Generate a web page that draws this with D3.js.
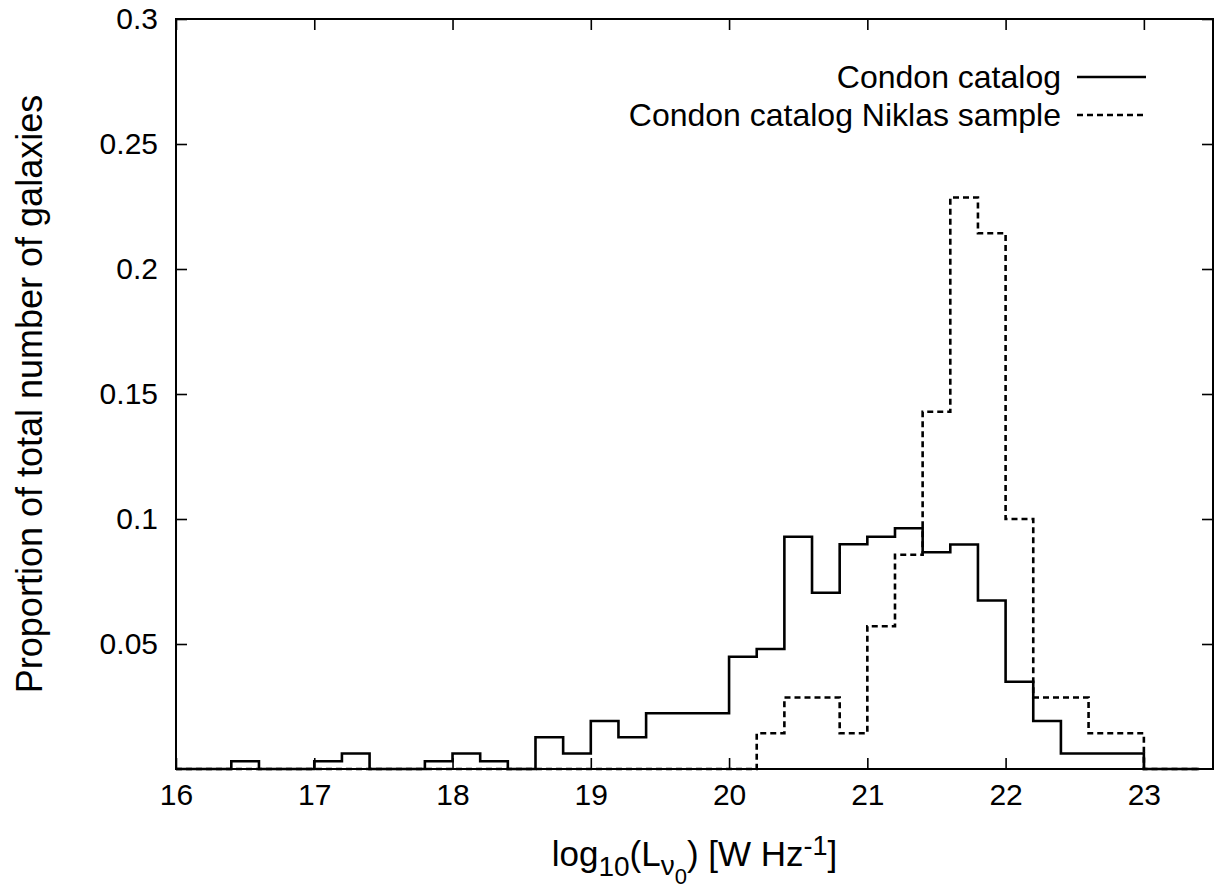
<!DOCTYPE html>
<html lang="en">
<head>
<meta charset="UTF-8">
<title>Condon catalog luminosity histogram</title>
<style>
    body { margin: 0; background: #fff; }
    svg { display: block; }
    text { font-family: "Liberation Sans", Arial, Helvetica, sans-serif; fill: #000; }
    .axis path { display: none; }
    .axis line { stroke: #000; stroke-width: 1.6px; }
</style>
</head>
<body>
<div id="chart"></div>
<script src="https://d3js.org/d3.v7.min.js"></script>
<script>

    // bin edges, log10 luminosity
    var binEdges = [16.0, 16.2, 16.4, 16.6, 16.8, 17.0, 17.2, 17.4, 17.6, 17.8,
                    18.0, 18.2, 18.4, 18.6, 18.8, 19.0, 19.2, 19.4, 19.6, 19.8,
                    20.0, 20.2, 20.4, 20.6, 20.8, 21.0, 21.2, 21.4, 21.6, 21.8,
                    22.0, 22.2, 22.4, 22.6, 22.8, 23.0, 23.2, 23.4];

    // Condon catalog (solid)
    var condon = [0, 0, 0.0031, 0, 0, 0.0031, 0.0062, 0, 0, 0.0031,
                  0.0062, 0.0031, 0, 0.0127, 0.0062, 0.0192, 0.0127, 0.0223, 0.0223, 0.0223,
                  0.0449, 0.048, 0.0929, 0.0705, 0.0899, 0.0929, 0.0963, 0.0867, 0.0898, 0.0674,
                  0.0349, 0.0192, 0.0062, 0.0062, 0.0062, 0, 0];

    // Condon catalog Niklas sample (dashed)
    var niklas = [0, 0, 0, 0, 0, 0, 0, 0, 0, 0,
                  0, 0, 0, 0, 0, 0, 0, 0, 0, 0,
                  0, 0.0143, 0.0286, 0.0286, 0.0143, 0.0571, 0.0857, 0.1429, 0.2286, 0.2143,
                  0.1, 0.0286, 0.0286, 0.0143, 0.0143, 0, 0];

    var xTicks = [16, 17, 18, 19, 20, 21, 22, 23];
    var yTicks = [0.05, 0.1, 0.15, 0.2, 0.25, 0.3];
    var yTickLabels = ["0.05", "0.1", "0.15", "0.2", "0.25", "0.3"];

    var seriesNames = ["Condon catalog", "Condon catalog Niklas sample"];


    var width = 1215,
        height = 888;

    var margin = {left: 176, right: 2, top: 19, bottom: 119};

    var svg = d3.select("#chart").append("svg")
        .attr("width", width)
        .attr("height", height);

    svg.append("rect")
        .attr("width", width)
        .attr("height", height)
        .attr("fill", "#fff");

    var x = d3.scaleLinear()
        .domain([16, 23.5])
        .range([margin.left, width - margin.right]);

    var y = d3.scaleLinear()
        .domain([0, 0.3])
        .range([height - margin.bottom, margin.top]);

    var tick = 11;

    // bottom axis with labels, ticks pointing inward
    var gx = svg.append("g")
        .attr("class", "axis")
        .attr("transform", "translate(0," + y(0) + ")")
        .call(d3.axisBottom(x).tickValues(xTicks).tickSize(-tick).tickPadding(0).tickFormat(d3.format("d")));
    gx.selectAll("text")
        .attr("font-size", "30px")
        .attr("dy", null)
        .attr("y", 36);

    // top mirror ticks
    svg.append("g")
        .attr("class", "axis")
        .attr("transform", "translate(0," + y(0.3) + ")")
        .call(d3.axisTop(x).tickValues(xTicks).tickSize(-tick).tickFormat(""));

    // left axis
    var gy = svg.append("g")
        .attr("class", "axis")
        .attr("transform", "translate(" + x(16) + ",0)")
        .call(d3.axisLeft(y).tickValues(yTicks).tickSize(-tick).tickPadding(18)
            .tickFormat(function (d, i) { return yTickLabels[i]; }));
    gy.selectAll("text")
        .attr("font-size", "30px");

    // right mirror ticks
    svg.append("g")
        .attr("class", "axis")
        .attr("transform", "translate(" + x(23.5) + ",0)")
        .call(d3.axisRight(y).tickValues(yTicks).tickSize(-tick).tickFormat(""));


    // histogram steps
    function stepPoints(vals) {
        return binEdges.map(function (e, i) {
            return [e, vals[Math.min(i, vals.length - 1)]];
        });
    }

    var line = d3.line()
        .x(function (d) { return x(d[0]); })
        .y(function (d) { return y(d[1]); })
        .curve(d3.curveStepAfter);

    svg.append("path")
        .attr("d", line(stepPoints(niklas)))
        .attr("fill", "none")
        .attr("stroke", "#000")
        .attr("stroke-width", 2.6)
        .attr("stroke-dasharray", "6,4");

    svg.append("path")
        .attr("d", line(stepPoints(condon)))
        .attr("fill", "none")
        .attr("stroke", "#000")
        .attr("stroke-width", 2.6);

    // border
    svg.append("rect")
        .attr("x", x(16))
        .attr("y", y(0.3))
        .attr("width", x(23.5) - x(16))
        .attr("height", y(0) - y(0.3))
        .attr("fill", "none")
        .attr("stroke", "#000")
        .attr("stroke-width", 2);


    // legend
    var legend = svg.append("g");
    seriesNames.forEach(function (name, i) {
        var ly = 77 + i * 38;
        legend.append("text")
            .attr("x", 1061)
            .attr("y", ly)
            .attr("dy", "0.35em")
            .attr("text-anchor", "end")
            .attr("font-size", "32px")
            .text(name);
        legend.append("line")
            .attr("x1", 1077)
            .attr("x2", 1146)
            .attr("y1", ly)
            .attr("y2", ly)
            .attr("stroke", "#000")
            .attr("stroke-width", 2.6)
            .attr("stroke-dasharray", i ? "6,4" : null);
    });


    // axis titles
    svg.append("text")
        .attr("transform", "translate(42," + ((y(0) + y(0.3)) / 2) + ") rotate(-90)")
        .attr("text-anchor", "middle")
        .attr("font-size", "36px")
        .text("Proportion of total number of galaxies");

    var xl = svg.append("text")
        .attr("x", (x(16) + x(23.5)) / 2)
        .attr("y", 866)
        .attr("text-anchor", "middle")
        .attr("font-size", "35px");
    xl.append("tspan").text("log");
    xl.append("tspan").attr("font-size", "28px").attr("dy", 10).text("10");
    xl.append("tspan").attr("dy", -10).text("(L");
    xl.append("tspan").attr("font-size", "28px").attr("dy", 9).text("ν");
    xl.append("tspan").attr("font-size", "22px").attr("dy", 9).text("0");
    xl.append("tspan").attr("dy", -18).text(") [W Hz");
    xl.append("tspan").attr("font-size", "27px").attr("dy", -11).text("-1");
    xl.append("tspan").attr("dy", 11).text("]");

</script>
</body>
</html>
